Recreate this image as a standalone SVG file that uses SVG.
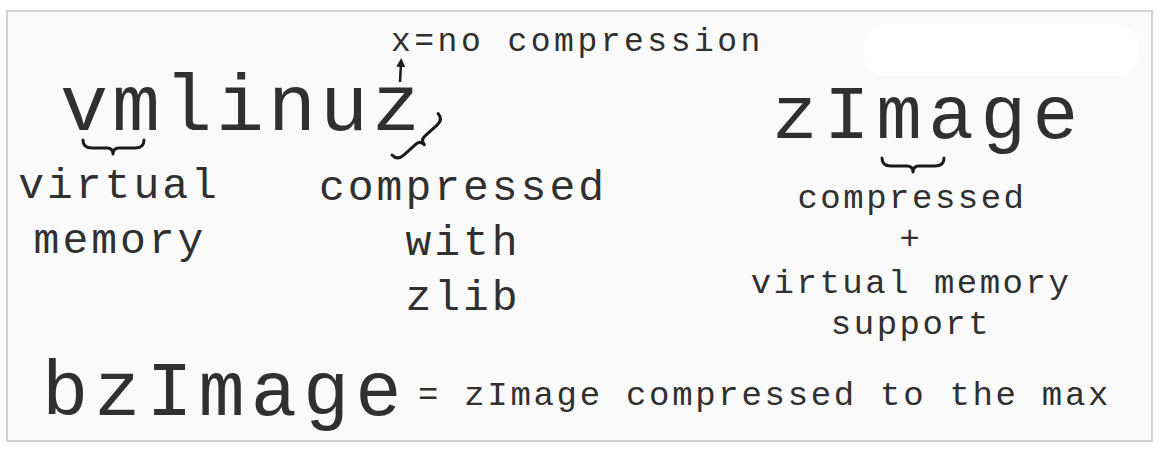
<svg xmlns="http://www.w3.org/2000/svg" width="1166" height="454" viewBox="0 0 1166 454">
  <style>
    .t { font-family: "Liberation Mono", "Courier New", monospace; fill: #303030; }
    .m { text-anchor: middle; }
    .br { fill: none; stroke: #1a1a1a; stroke-width: 3; stroke-linecap: round; stroke-linejoin: round; }
  </style>
  <defs>
    <marker id="ah" markerWidth="9" markerHeight="9" refX="4" refY="4.5" orient="auto" markerUnits="userSpaceOnUse">
      <path d="M0,0 L9,4.5 L0,9 Z" fill="#1a1a1a"/>
    </marker>
  </defs>
  <rect x="0" y="0" width="1166" height="454" fill="#ffffff"/>
  <rect x="7" y="11" width="1145" height="430" fill="#fafafa" stroke="#d2d2d2" stroke-width="2"/>
  <rect x="864" y="24" width="274" height="52" rx="22" fill="#ffffff"/>

  <g id="vmlinuz">
    <text class="t" x="60" y="130" font-size="80" letter-spacing="4">vmlinuz</text>
  </g>
  <g id="note-x">
    <text class="t" x="391" y="51" font-size="33" letter-spacing="3.5">x=no compression</text>
  </g>
  <g id="vm-label">
    <text class="t m" x="119" y="198" font-size="43" letter-spacing="3">virtual</text>
    <text class="t m" x="120" y="253" font-size="43" letter-spacing="3">memory</text>
  </g>
  <g id="z-label">
    <text class="t m" x="463" y="200" font-size="43" letter-spacing="3">compressed</text>
    <text class="t m" x="463" y="255" font-size="43" letter-spacing="3">with</text>
    <text class="t m" x="463" y="310" font-size="43" letter-spacing="3">zlib</text>
  </g>
  <g id="zImage">
    <text class="t" x="772" y="138" font-size="76" letter-spacing="6.5">zImage</text>
  </g>
  <g id="zImage-label">
    <text class="t m" x="912" y="208" font-size="34" letter-spacing="2.5">compressed</text>
    <text class="t m" x="911" y="249" font-size="34" letter-spacing="2.5">+</text>
    <text class="t m" x="911" y="293" font-size="34" letter-spacing="2.5">virtual memory</text>
    <text class="t m" x="911" y="334" font-size="34" letter-spacing="2.5">support</text>
  </g>
  <g id="bzImage">
    <text class="t" x="42" y="415" font-size="77" letter-spacing="6">bzImage</text>
    <text class="t" x="418" y="405" font-size="34" letter-spacing="2.7">= zImage compressed to the max</text>
  </g>

  <g id="connectors">
    <path class="br" d="M83,140 Q83,148 92,148 L107,148 Q113,148 113,154 Q113,148 119,148 L135,148 Q144,148 144,140"/>
    <path class="br" transform="translate(392,155) rotate(-42)" d="M0,0 Q0,8 9,8 L25,8 Q31,8 31,14 Q31,8 37,8 L53,8 Q62,8 62,0"/>
    <path class="br" d="M882,158 Q882,166 891,166 L907,166 Q913,166 913,172 Q913,166 919,166 L935,166 Q944,166 944,158"/>
    <line x1="400" y1="82" x2="401" y2="63" stroke="#1a1a1a" stroke-width="2.5" marker-end="url(#ah)"/>
  </g>
</svg>
